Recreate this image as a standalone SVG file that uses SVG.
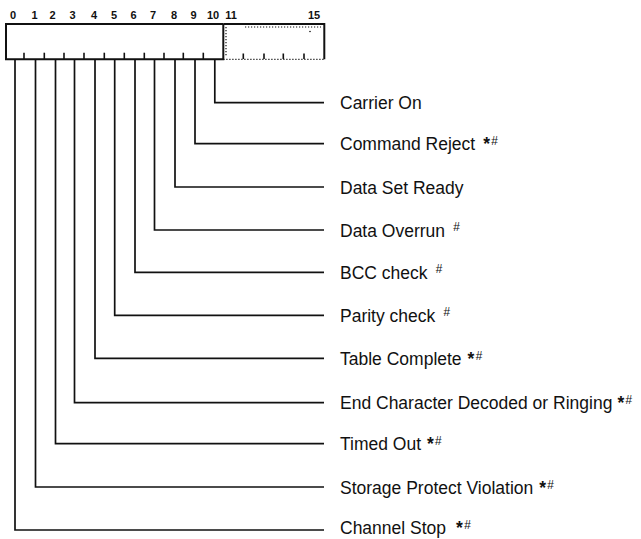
<svg xmlns="http://www.w3.org/2000/svg" width="641" height="539" viewBox="0 0 641 539">
<style>
  .bg { fill: #ffffff; }
  .frame { fill: none; stroke: #111; stroke-width: 2; }
  .dot { fill: none; stroke: #111; stroke-width: 1.2; stroke-dasharray: 1.2 1.8; }
  .tick { stroke: #111; stroke-width: 1.6; }
  .bitnum { font-family: "Liberation Sans", Arial, sans-serif; font-weight: bold; font-size: 11px; fill: #111; text-anchor: middle; }
  .conn { fill: none; stroke: #111; stroke-width: 1.7; }
  .lbl { font-family: "Liberation Sans", Arial, sans-serif; font-size: 17.5px; fill: #111; }
  .ast { font-weight: bold; }
  .mk { font-size: 12px; font-style: italic; }
</style>
<rect class="bg" x="0" y="0" width="641" height="539"/>

<g id="register">
  <text class="bitnum" x="13" y="19">0</text>
  <text class="bitnum" x="34.5" y="19">1</text>
  <text class="bitnum" x="52.5" y="19">2</text>
  <text class="bitnum" x="72.5" y="19">3</text>
  <text class="bitnum" x="94" y="19">4</text>
  <text class="bitnum" x="114" y="19">5</text>
  <text class="bitnum" x="133.5" y="19">6</text>
  <text class="bitnum" x="153" y="19">7</text>
  <text class="bitnum" x="174" y="19">8</text>
  <text class="bitnum" x="193.5" y="19">9</text>
  <text class="bitnum" x="213" y="19">10</text>
  <text class="bitnum" x="231" y="19">11</text>
  <text class="bitnum" x="314" y="19">15</text>
  <!-- bits 0-10 solid -->
  <path class="frame" d="M223.3,24 H6 V59.3 H223.3 V24"/>
  <!-- bits 11-15 -->
  <path class="frame" d="M223.3,24 H324.3 V59.3"/>
  <path class="dot" d="M223.3,59.3 H324.3"/>
  <path class="dot" d="M245,27 H321 M226,27 V57"/>
  <circle cx="310" cy="31.5" r="0.8" fill="#111"/>
  <g class="tick">
    <line x1="24" y1="52.7" x2="24" y2="59"/>
    <line x1="44.3" y1="52.7" x2="44.3" y2="59"/>
    <line x1="64" y1="52.7" x2="64" y2="59"/>
    <line x1="84" y1="52.7" x2="84" y2="59"/>
    <line x1="104.3" y1="52.7" x2="104.3" y2="59"/>
    <line x1="124.3" y1="52.7" x2="124.3" y2="59"/>
    <line x1="144.3" y1="52.7" x2="144.3" y2="59"/>
    <line x1="164" y1="52.7" x2="164" y2="59"/>
    <line x1="183.3" y1="52.7" x2="183.3" y2="59"/>
    <line x1="203.3" y1="52.7" x2="203.3" y2="59"/>
  </g>
  <g class="tick" stroke-width="1.2">
    <line x1="243.3" y1="53.5" x2="243.3" y2="59"/>
    <line x1="264" y1="53.5" x2="264" y2="59"/>
    <line x1="283.3" y1="53.5" x2="283.3" y2="59"/>
    <line x1="304" y1="53.5" x2="304" y2="59"/>
  </g>
</g>

<g id="connectors">
  <path class="conn" d="M214.8,59 V102.7 H324"/>
  <path class="conn" d="M195,59 V143.7 H324"/>
  <path class="conn" d="M175,59 V187 H324"/>
  <path class="conn" d="M154.5,59 V230 H324"/>
  <path class="conn" d="M135,59 V272.3 H324"/>
  <path class="conn" d="M114.7,59 V315.3 H324"/>
  <path class="conn" d="M95,59 V358.3 H324"/>
  <path class="conn" d="M74.5,59 V402.7 H324"/>
  <path class="conn" d="M55.5,59 V443.7 H324"/>
  <path class="conn" d="M35.5,59 V487 H324"/>
  <path class="conn" d="M15,59 V530 H324"/>
</g>

<g id="carrier-on"><text class="lbl" x="340" y="109">Carrier On</text></g>
<g id="command-reject"><text class="lbl" x="340" y="150">Command Reject<tspan class="ast" dx="8">*</tspan><tspan class="mk" dx="1" dy="-5">#</tspan></text></g>
<g id="data-set-ready"><text class="lbl" x="340" y="193.5">Data Set Ready</text></g>
<g id="data-overrun"><text class="lbl" x="340" y="236.5">Data Overrun<tspan class="mk" dx="8" dy="-6">#</tspan></text></g>
<g id="bcc-check"><text class="lbl" x="340" y="278.5">BCC check<tspan class="mk" dx="8" dy="-6">#</tspan></text></g>
<g id="parity-check"><text class="lbl" x="340" y="321.5">Parity check<tspan class="mk" dx="8" dy="-6">#</tspan></text></g>
<g id="table-complete"><text class="lbl" x="340" y="364.5">Table Complete<tspan class="ast" dx="6">*</tspan><tspan class="mk" dx="1" dy="-5">#</tspan></text></g>
<g id="end-character"><text class="lbl" x="340" y="409">End Character Decoded or Ringing<tspan class="ast" dx="5">*</tspan><tspan class="mk" dx="1" dy="-5">#</tspan></text></g>
<g id="timed-out"><text class="lbl" x="340" y="450">Timed Out<tspan class="ast" dx="6">*</tspan><tspan class="mk" dx="1" dy="-5">#</tspan></text></g>
<g id="storage-protect"><text class="lbl" x="340" y="493.5">Storage Protect Violation<tspan class="ast" dx="6">*</tspan><tspan class="mk" dx="1" dy="-5">#</tspan></text></g>
<g id="channel-stop"><text class="lbl" x="340" y="534">Channel Stop<tspan class="ast" dx="10">*</tspan><tspan class="mk" dx="1" dy="-5">#</tspan></text></g>
</svg>
